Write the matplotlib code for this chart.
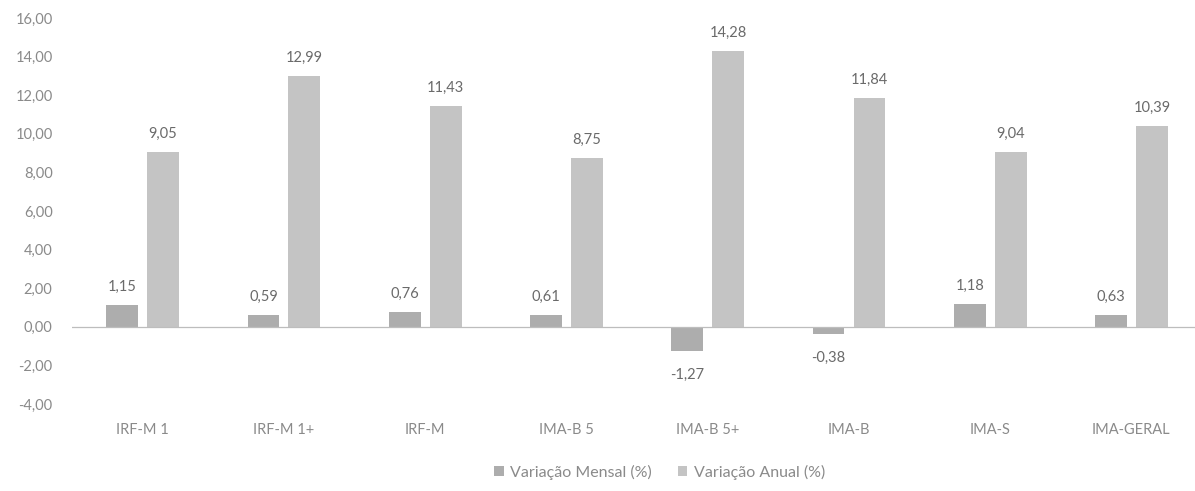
import numpy as np
import matplotlib.pyplot as plt
from matplotlib.ticker import FuncFormatter

categorias = ['IRF-M 1', 'IRF-M 1+', 'IRF-M', 'IMA-B 5', 'IMA-B 5+', 'IMA-B', 'IMA-S', 'IMA-GERAL']
var_mensal = [1.15, 0.59, 0.76, 0.61, -1.27, -0.38, 1.18, 0.63]
var_anual = [9.05, 12.99, 11.43, 8.75, 14.28, 11.84, 9.04, 10.39]

cor_mensal = '#adadad'
cor_anual = '#c4c4c4'
cor_texto = '#8a8a8a'
cor_valor = '#6a6a6a'

plt.rcParams['font.family'] = ['Lato', 'DejaVu Sans']

fig = plt.figure(figsize=(11.95, 4.91), dpi=100)
ax = fig.add_axes([72/1195, 1 - 404/491, 1 - 72/1195, (404 - 18)/491])

x = np.arange(len(categorias))
larg = 0.225
desl = 0.145

b1 = ax.bar(x - desl, var_mensal, larg, color=cor_mensal, label='Variação Mensal (%)')
b2 = ax.bar(x + desl, var_anual, larg, color=cor_anual, label='Variação Anual (%)')

def fmt(v):
    return f'{v:.2f}'.replace('.', ',')

for barras, vals in [(b1, var_mensal), (b2, var_anual)]:
    for r, v in zip(barras, vals):
        if v >= 0:
            ax.annotate(fmt(v), (r.get_x() + r.get_width()/2, v), xytext=(0, 8),
                        textcoords='offset points', ha='center', va='bottom',
                        fontsize=10.5, color=cor_valor)
        else:
            ax.annotate(fmt(v), (r.get_x() + r.get_width()/2, v), xytext=(0, -12),
                        textcoords='offset points', ha='center', va='top',
                        fontsize=10.5, color=cor_valor)

ax.axhline(0, color='#bdbdbd', lw=0.9)
ax.set_xlim(-0.5, 7.45)
ax.set_ylim(-4, 16)
ax.set_yticks(np.arange(-4, 17, 2))
ax.yaxis.set_major_formatter(FuncFormatter(lambda v, p: fmt(v)))
ax.set_xticks(x)
ax.set_xticklabels(categorias)
ax.tick_params(axis='y', length=0, pad=14, labelsize=10.5, labelcolor=cor_texto)
ax.tick_params(axis='x', length=0, pad=14, labelsize=10.5, labelcolor=cor_texto)
for s in ax.spines.values():
    s.set_visible(False)

fig.legend(loc='center', bbox_to_anchor=(0.552, 0.038), ncol=2, frameon=False,
           fontsize=11.5, labelcolor=cor_texto, handlelength=0.6, handleheight=0.6,
           handletextpad=0.4, columnspacing=1.6)

fig.savefig('out.png', dpi=100, facecolor='white')
